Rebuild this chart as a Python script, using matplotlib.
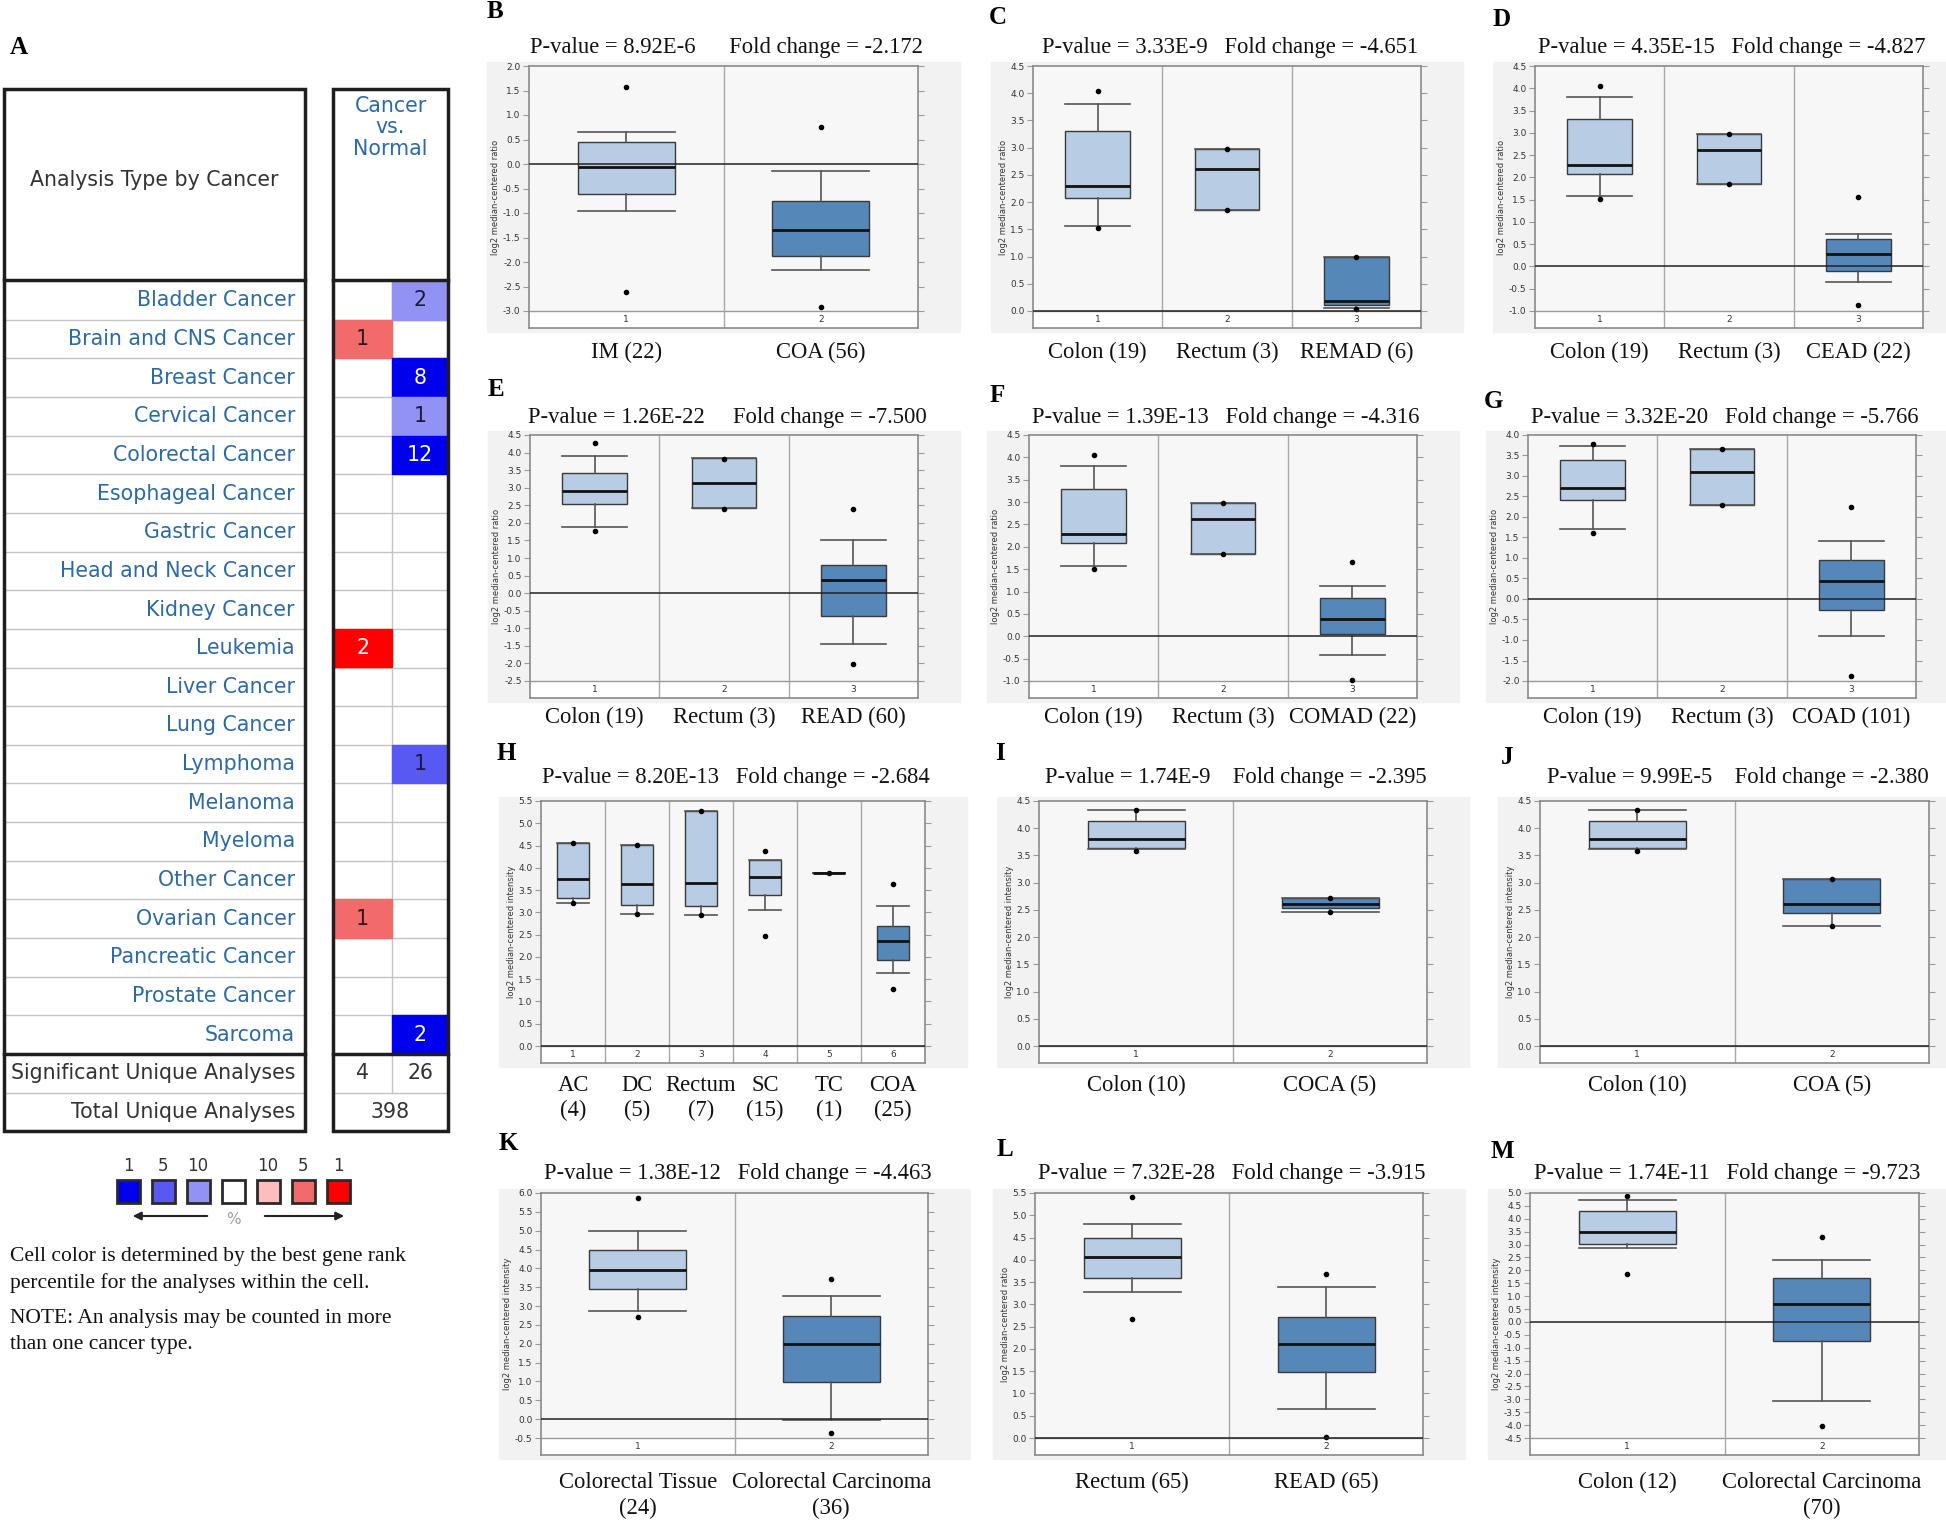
import numpy as np
import matplotlib
matplotlib.use("Agg")
import matplotlib.pyplot as plt
from matplotlib.patches import Rectangle
from matplotlib.ticker import FixedLocator, FuncFormatter

W, H = 1946, 1521
SERIF = "Liberation Serif"
SANS = "DejaVu Sans"

# ---------------------------------------------------------
# Panel A: Oncomine analysis counts (cancer vs. normal)
# ---------------------------------------------------------
cancer_types = ["Bladder Cancer", "Brain and CNS Cancer", "Breast Cancer",
                "Cervical Cancer", "Colorectal Cancer", "Esophageal Cancer",
                "Gastric Cancer", "Head and Neck Cancer", "Kidney Cancer",
                "Leukemia", "Liver Cancer", "Lung Cancer", "Lymphoma",
                "Melanoma", "Myeloma", "Other Cancer", "Ovarian Cancer",
                "Pancreatic Cancer", "Prostate Cancer", "Sarcoma"]
over_count = [0, 1, 0, 0, 0, 0, 0, 0, 0, 2, 0, 0, 0, 0, 0, 0, 1, 0, 0, 0]
over_pct = [0, 5, 0, 0, 0, 0, 0, 0, 0, 1, 0, 0, 0, 0, 0, 0, 5, 0, 0, 0]
under_count = [2, 0, 8, 1, 12, 0, 0, 0, 0, 0, 0, 0, 1, 0, 0, 0, 0, 0, 0, 2]
under_pct = [10, 0, 1, 10, 1, 0, 0, 0, 0, 0, 0, 0, 5, 0, 0, 0, 0, 0, 0, 1]
sig_unique = [4, 26]
total_unique = 398
pct_levels = [1, 5, 10]

# ---------------------------------------------------------
# Panels B-M: box statistics [whislo, q1, median, q3, whishi]
# ---------------------------------------------------------
B_labels = ["IM (22)", "COA (56)"]
B_box = [[-0.95, -0.62, -0.07, 0.45, 0.65], [-2.17, -1.87, -1.35, -0.75, -0.14]]
B_dots = [[1.57, -2.62], [0.75, -2.92]]
B_test = ("8.92E-6", "-2.172")
B_range = (-3.0, 2.0)

C_labels = ["Colon (19)", "Rectum (3)", "REMAD (6)"]
C_box = [[1.57, 2.07, 2.3, 3.3, 3.8], [1.85, 1.85, 2.6, 2.97, 2.97], [0.05, 0.11, 0.18, 1.0, 1.0]]
C_dots = [[4.05, 1.52], [2.97, 1.85], [1.0, 0.04]]
C_test = ("3.33E-9", "-4.651")
C_range = (0.0, 4.5)

D_labels = ["Colon (19)", "Rectum (3)", "CEAD (22)"]
D_box = [[1.58, 2.08, 2.28, 3.3, 3.8], [1.85, 1.85, 2.62, 2.98, 2.98], [-0.36, -0.1, 0.28, 0.62, 0.73]]
D_dots = [[4.05, 1.52], [2.98, 1.85], [1.55, -0.86]]
D_test = ("4.35E-15", "-4.827")
D_range = (-1.0, 4.5)

E_labels = ["Colon (19)", "Rectum (3)", "READ (60)"]
E_box = [[1.88, 2.53, 2.9, 3.42, 3.9], [2.42, 2.42, 3.12, 3.84, 3.84], [-1.45, -0.65, 0.36, 0.8, 1.5]]
E_dots = [[4.27, 1.78], [3.83, 2.4], [2.4, -2.02]]
E_test = ("1.26E-22", "-7.500")
E_range = (-2.5, 4.5)

F_labels = ["Colon (19)", "Rectum (3)", "COMAD (22)"]
F_box = [[1.57, 2.08, 2.29, 3.3, 3.8], [1.85, 1.85, 2.62, 2.98, 2.98], [-0.42, 0.05, 0.38, 0.85, 1.13]]
F_dots = [[4.05, 1.5], [2.98, 1.85], [1.65, -0.97]]
F_test = ("1.39E-13", "-4.316")
F_range = (-1.0, 4.5)

G_labels = ["Colon (19)", "Rectum (3)", "COAD (101)"]
G_box = [[1.7, 2.42, 2.7, 3.4, 3.72], [2.3, 2.3, 3.1, 3.65, 3.65], [-0.9, -0.27, 0.45, 0.95, 1.42]]
G_dots = [[3.78, 1.6], [3.65, 2.3], [2.25, -1.88]]
G_test = ("3.32E-20", "-5.766")
G_range = (-2.0, 4.0)

H_labels = ["AC\n(4)", "DC\n(5)", "Rectum\n(7)", "SC\n(15)", "TC\n(1)", "COA\n(25)"]
H_box = [[3.2, 3.33, 3.75, 4.55, 4.55], [2.97, 3.17, 3.63, 4.52, 4.52],
         [2.95, 3.15, 3.65, 5.28, 5.28], [3.05, 3.38, 3.8, 4.18, 4.18],
         [3.88, 3.88, 3.88, 3.88, 3.88], [1.65, 1.92, 2.36, 2.7, 3.15]]
H_dots = [[4.55, 3.2], [4.52, 2.97], [5.28, 2.95], [4.37, 2.48], [3.88], [3.63, 1.27]]
H_test = ("8.20E-13", "-2.684")
H_range = (0.0, 5.5)

I_labels = ["Colon (10)", "COCA (5)"]
I_box = [[3.62, 3.63, 3.81, 4.14, 4.33], [2.47, 2.53, 2.6, 2.71, 2.71]]
I_dots = [[4.33, 3.58], [2.71, 2.47]]
I_test = ("1.74E-9", "-2.395")
I_range = (0.0, 4.5)

J_labels = ["Colon (10)", "COA (5)"]
J_box = [[3.62, 3.63, 3.81, 4.14, 4.33], [2.2, 2.44, 2.6, 3.07, 3.07]]
J_dots = [[4.33, 3.58], [3.07, 2.2]]
J_test = ("9.99E-5", "-2.380")
J_range = (0.0, 4.5)

K_labels = ["Colorectal Tissue\n(24)", "Colorectal Carcinoma\n(36)"]
K_box = [[2.87, 3.45, 3.95, 4.5, 5.0], [-0.01, 0.98, 2.0, 2.75, 3.27]]
K_dots = [[5.88, 2.72], [3.72, -0.36]]
K_test = ("1.38E-12", "-4.463")
K_range = (-0.5, 6.0)

L_labels = ["Rectum (65)", "READ (65)"]
L_box = [[3.27, 3.6, 4.07, 4.48, 4.81], [0.66, 1.48, 2.12, 2.72, 3.38]]
L_dots = [[5.42, 2.68], [3.68, 0.03]]
L_test = ("7.32E-28", "-3.915")
L_range = (0.0, 5.5)

M_labels = ["Colon (12)", "Colorectal Carcinoma\n(70)"]
M_box = [[2.87, 3.03, 3.5, 4.3, 4.73], [-3.07, -0.72, 0.7, 1.7, 2.4]]
M_dots = [[4.9, 1.87], [3.28, -4.05]]
M_test = ("1.74E-11", "-9.723")
M_range = (-4.5, 5.0)

# colours
blue_shades = ["#0000ec", "#5858f2", "#9292f4"]
red_shades = ["#ff0000", "#f26a6a", "#ffbcbc"]
light_box = "#b8cce4"
dark_box = "#5587b9"
link_blue = "#2b6aa6"

fig = plt.figure(figsize=(W / 100, H / 100), dpi=100)
fig.patch.set_facecolor("white")

# pixel-space canvas for the table, legend and grey backdrops
bg = fig.add_axes([0, 0, 1, 1])
bg.set_xlim(0, W)
bg.set_ylim(H, 0)
bg.axis("off")


def px_axes(x0, y0, x1, y1):
    return fig.add_axes([x0 / W, 1 - y1 / H, (x1 - x0) / W, (y1 - y0) / H])


def shade(pct, shades):
    return shades[pct_levels.index(pct)]


# ---------------- panel A : table ----------------
bg.text(19, 48, "A", fontsize=18, fontweight="bold", family=SERIF, ha="center", va="center")

TAB_FS = 14.8
row_top = 281
row_h = 38.65
n_rows = len(cancer_types)
sig_top = row_top + n_rows * row_h
tot_top = sig_top + row_h
tab_bot = tot_top + row_h
lx0, lx1 = 4, 305
rx0, rmid, rx1 = 333, 392, 448

for k in range(1, n_rows):
    y = row_top + k * row_h
    bg.plot([lx0, lx1], [y, y], color="#c4c4c4", lw=1)
    bg.plot([rx0, rx1], [y, y], color="#c4c4c4", lw=1)
bg.plot([lx0, lx1], [tot_top, tot_top], color="#c4c4c4", lw=1)
bg.plot([rx0, rx1], [tot_top, tot_top], color="#c4c4c4", lw=1)
bg.plot([rmid, rmid], [row_top, tot_top], color="#c4c4c4", lw=1)

for k, name in enumerate(cancer_types):
    yc = row_top + (k + 0.5) * row_h
    bg.text(295, yc, name, fontsize=TAB_FS, family=SANS, color=link_blue, ha="right", va="center")
    if over_count[k]:
        bg.add_patch(Rectangle((rx0, row_top + k * row_h), rmid - rx0, row_h,
                               color=shade(over_pct[k], red_shades), zorder=2))
        bg.text((rx0 + rmid) / 2, yc, str(over_count[k]), fontsize=TAB_FS, family=SANS,
                color="white" if over_pct[k] == 1 else "#2a1a1a", ha="center", va="center", zorder=3)
    if under_count[k]:
        bg.add_patch(Rectangle((rmid, row_top + k * row_h), rx1 - rmid, row_h,
                               color=shade(under_pct[k], blue_shades), zorder=2))
        bg.text((rmid + rx1) / 2, yc, str(under_count[k]), fontsize=TAB_FS, family=SANS,
                color="white" if under_pct[k] == 1 else "#1a1a3a", ha="center", va="center", zorder=3)

bg.text(295, sig_top + row_h / 2, "Significant Unique Analyses", fontsize=TAB_FS, family=SANS,
        color="#333333", ha="right", va="center")
bg.text(295, tot_top + row_h / 2, "Total Unique Analyses", fontsize=TAB_FS, family=SANS,
        color="#333333", ha="right", va="center")
bg.text((rx0 + rmid) / 2, sig_top + row_h / 2, str(sig_unique[0]), fontsize=TAB_FS, family=SANS,
        color="#333333", ha="center", va="center")
bg.text((rmid + rx1) / 2, sig_top + row_h / 2, str(sig_unique[1]), fontsize=TAB_FS, family=SANS,
        color="#333333", ha="center", va="center")
bg.text((rx0 + rx1) / 2, tot_top + row_h / 2, str(total_unique), fontsize=TAB_FS, family=SANS,
        color="#333333", ha="center", va="center")

bg.text((lx0 + lx1) / 2, 180, "Analysis Type by Cancer", fontsize=TAB_FS, family=SANS,
        color="#333333", ha="center", va="center")
bg.text((rx0 + rx1) / 2, 96, "Cancer\nvs.\nNormal", fontsize=TAB_FS, family=SANS, color=link_blue,
        ha="center", va="top", linespacing=1.08)

for x0, x1 in [(lx0, lx1), (rx0, rx1)]:
    bg.add_patch(Rectangle((x0, 89), x1 - x0, tab_bot - 89, fill=False, ec="#1e1e1e", lw=2.5, zorder=4))
    bg.plot([x0, x1], [280, 280], color="#1e1e1e", lw=2.5, zorder=4)
    bg.plot([x0, x1], [sig_top, sig_top], color="#1e1e1e", lw=2.5, zorder=4)

# colour key
key_colors = blue_shades + ["white"] + red_shades[::-1]
key_text = [str(p) for p in pct_levels] + [""] + [str(p) for p in pct_levels[::-1]]
for i, (c, t) in enumerate(zip(key_colors, key_text)):
    xc = 128 + 35 * i
    bg.add_patch(Rectangle((xc - 11.5, 1180), 23, 23, facecolor=c, edgecolor="#2a2a2a", lw=2))
    bg.text(xc, 1166, t, fontsize=12, family=SANS, color="#333333", ha="center", va="center")
bg.annotate("", xy=(130, 1216), xytext=(210, 1216),
            arrowprops=dict(arrowstyle="-|>", color="#222222", lw=1.5, mutation_scale=12))
bg.annotate("", xy=(347, 1216), xytext=(262, 1216),
            arrowprops=dict(arrowstyle="-|>", color="#222222", lw=1.5, mutation_scale=12))
bg.text(233, 1219, "%", fontsize=11, family=SANS, color="#a0a0a0", ha="center", va="center")

notes = [(1256, "Cell color is determined by the best gene rank"),
         (1283, "percentile for the analyses within the cell."),
         (1318, "NOTE: An analysis may be counted in more"),
         (1344, "than one cancer type.")]
for y, t in notes:
    bg.text(10, y, t, fontsize=15.5, family=SERIF, color="#111111", ha="left", va="center")

# ---------------- panels B-M : box plots ----------------
panels = [
    ("B", B_labels, B_box, B_dots, B_test, B_range, "ratio", (529, 66, 918, 328), (495, 12), 6, 0),
    ("C", C_labels, C_box, C_dots, C_test, C_range, "ratio", (1033, 66, 1421, 328), (998, 18), 3, 0),
    ("D", D_labels, D_box, D_dots, D_test, D_range, "ratio", (1535, 66, 1923, 328), (1502, 20), 3, 0),
    ("E", E_labels, E_box, E_dots, E_test, E_range, "ratio", (530, 435, 918, 698), (496, 390), 5, 1),
    ("F", F_labels, F_box, F_dots, F_test, F_range, "ratio", (1029, 435, 1417, 698), (997, 395), 3, 1),
    ("G", G_labels, G_box, G_dots, G_test, G_range, "ratio", (1528, 435, 1916, 698), (1493, 401), 3, 1),
    ("H", H_labels, H_box, H_dots, H_test, H_range, "intensity", (541, 801, 925, 1063), (506, 753), 3, 2),
    ("I", I_labels, I_box, I_dots, I_test, I_range, "intensity", (1039, 801, 1427, 1063), (1000, 753), 4, 2),
    ("J", J_labels, J_box, J_dots, J_test, J_range, "intensity", (1540, 801, 1929, 1063), (1507, 757), 4, 2),
    ("K", K_labels, K_box, K_dots, K_test, K_range, "intensity", (541, 1193, 928, 1455), (508, 1143), 3, 3),
    ("L", L_labels, L_box, L_dots, L_test, L_range, "ratio", (1035, 1193, 1423, 1455), (1005, 1150), 3, 3),
    ("M", M_labels, M_box, M_dots, M_test, M_range, "intensity", (1530, 1193, 1919, 1455), (1502, 1152), 3, 3),
]
title_dy = [18, 18, 24, 20]
label_dy = [14, 9, 12, 17]
label_ls = [1.25, 1.25, 1.25, 1.32]
strip_px = 17

fmt = FuncFormatter(lambda v, pos: "%.1f" % (round(v, 2) + 0.0))

for letter, labels, boxes, dots, test, yr, unit, frame, lpos, gap, row in panels:
    x0, y0, x1, y1 = frame
    bg.add_patch(Rectangle((x0 - 42, y0 - 4), x1 - x0 + 84, y1 - y0 + 8, color="#f2f2f2", zorder=0))
    bg.text(lpos[0], lpos[1], letter, fontsize=18, fontweight="bold", family=SERIF,
            ha="center", va="center")
    title = "P-value = %s%sFold change = %s" % (test[0], " " * gap, test[1])
    bg.text((x0 + x1) / 2 + 3, y0 - title_dy[row], title, fontsize=16.3, family=SERIF,
            ha="center", va="center", color="#111111")

    ax = px_axes(*frame)
    n = len(labels)
    lo, hi = yr
    strip = (hi - lo) * strip_px / (y1 - y0 - strip_px)
    ax.set_xlim(0.5, n + 0.5)
    ax.set_ylim(lo - strip, hi)
    ax.set_facecolor("#f7f7f7")
    ax.axhspan(lo - strip, lo, color="white", zorder=0.5, lw=0)
    ax.axhline(lo, color="#9a9a9a", lw=1, zorder=1)
    if lo <= 0 <= hi:
        ax.axhline(0, color="#222222", lw=1.1, zorder=3)
    for k in range(1, n):
        ax.axvline(k + 0.5, color="#a8a8a8", lw=1, zorder=1)

    stats = [dict(whislo=b[0], q1=b[1], med=b[2], q3=b[3], whishi=b[4], fliers=d)
             for b, d in zip(boxes, dots)]
    res = ax.bxp(stats, positions=list(range(1, n + 1)), widths=0.5, capwidths=0.5,
                 patch_artist=True, manage_ticks=False,
                 boxprops=dict(edgecolor="#3a3a3a", linewidth=1),
                 medianprops=dict(color="#111111", linewidth=2),
                 whiskerprops=dict(color="#555555", linewidth=1.2),
                 capprops=dict(color="#555555", linewidth=1.2),
                 flierprops=dict(marker="o", markersize=3, markerfacecolor="black",
                                 markeredgecolor="black", linestyle="none"))
    for i, patch in enumerate(res["boxes"]):
        patch.set_facecolor(dark_box if i == n - 1 else light_box)

    for i in range(n):
        ax.text(i + 1, lo - strip / 2, str(i + 1), fontsize=6.5, family=SANS, color="#333333",
                ha="center", va="center")
        ax.annotate(labels[i], xy=(i + 1, 0), xycoords=("data", "axes fraction"),
                    xytext=(0, -label_dy[row]), textcoords="offset pixels",
                    ha="center", va="top", fontsize=16.3, family=SERIF, linespacing=label_ls[row],
                    color="#111111", annotation_clip=False)

    ax.yaxis.set_major_locator(FixedLocator(np.arange(lo, hi + 1e-9, 0.5)))
    ax.yaxis.set_major_formatter(fmt)
    ax.set_xticks([])
    ax.tick_params(axis="y", direction="out", length=4, width=0.8, color="#9a9a9a",
                   labelsize=6.5, labelcolor="#333333", right=True, labelright=False, pad=2)
    ax.set_ylabel("log2 median-centered %s" % unit, fontsize=6, family=SANS, color="#333333",
                  labelpad=2)
    for s in ax.spines.values():
        s.set_color("#8a8a8a")
        s.set_linewidth(1.2)

fig.savefig("out.png", dpi=100, facecolor="white")
